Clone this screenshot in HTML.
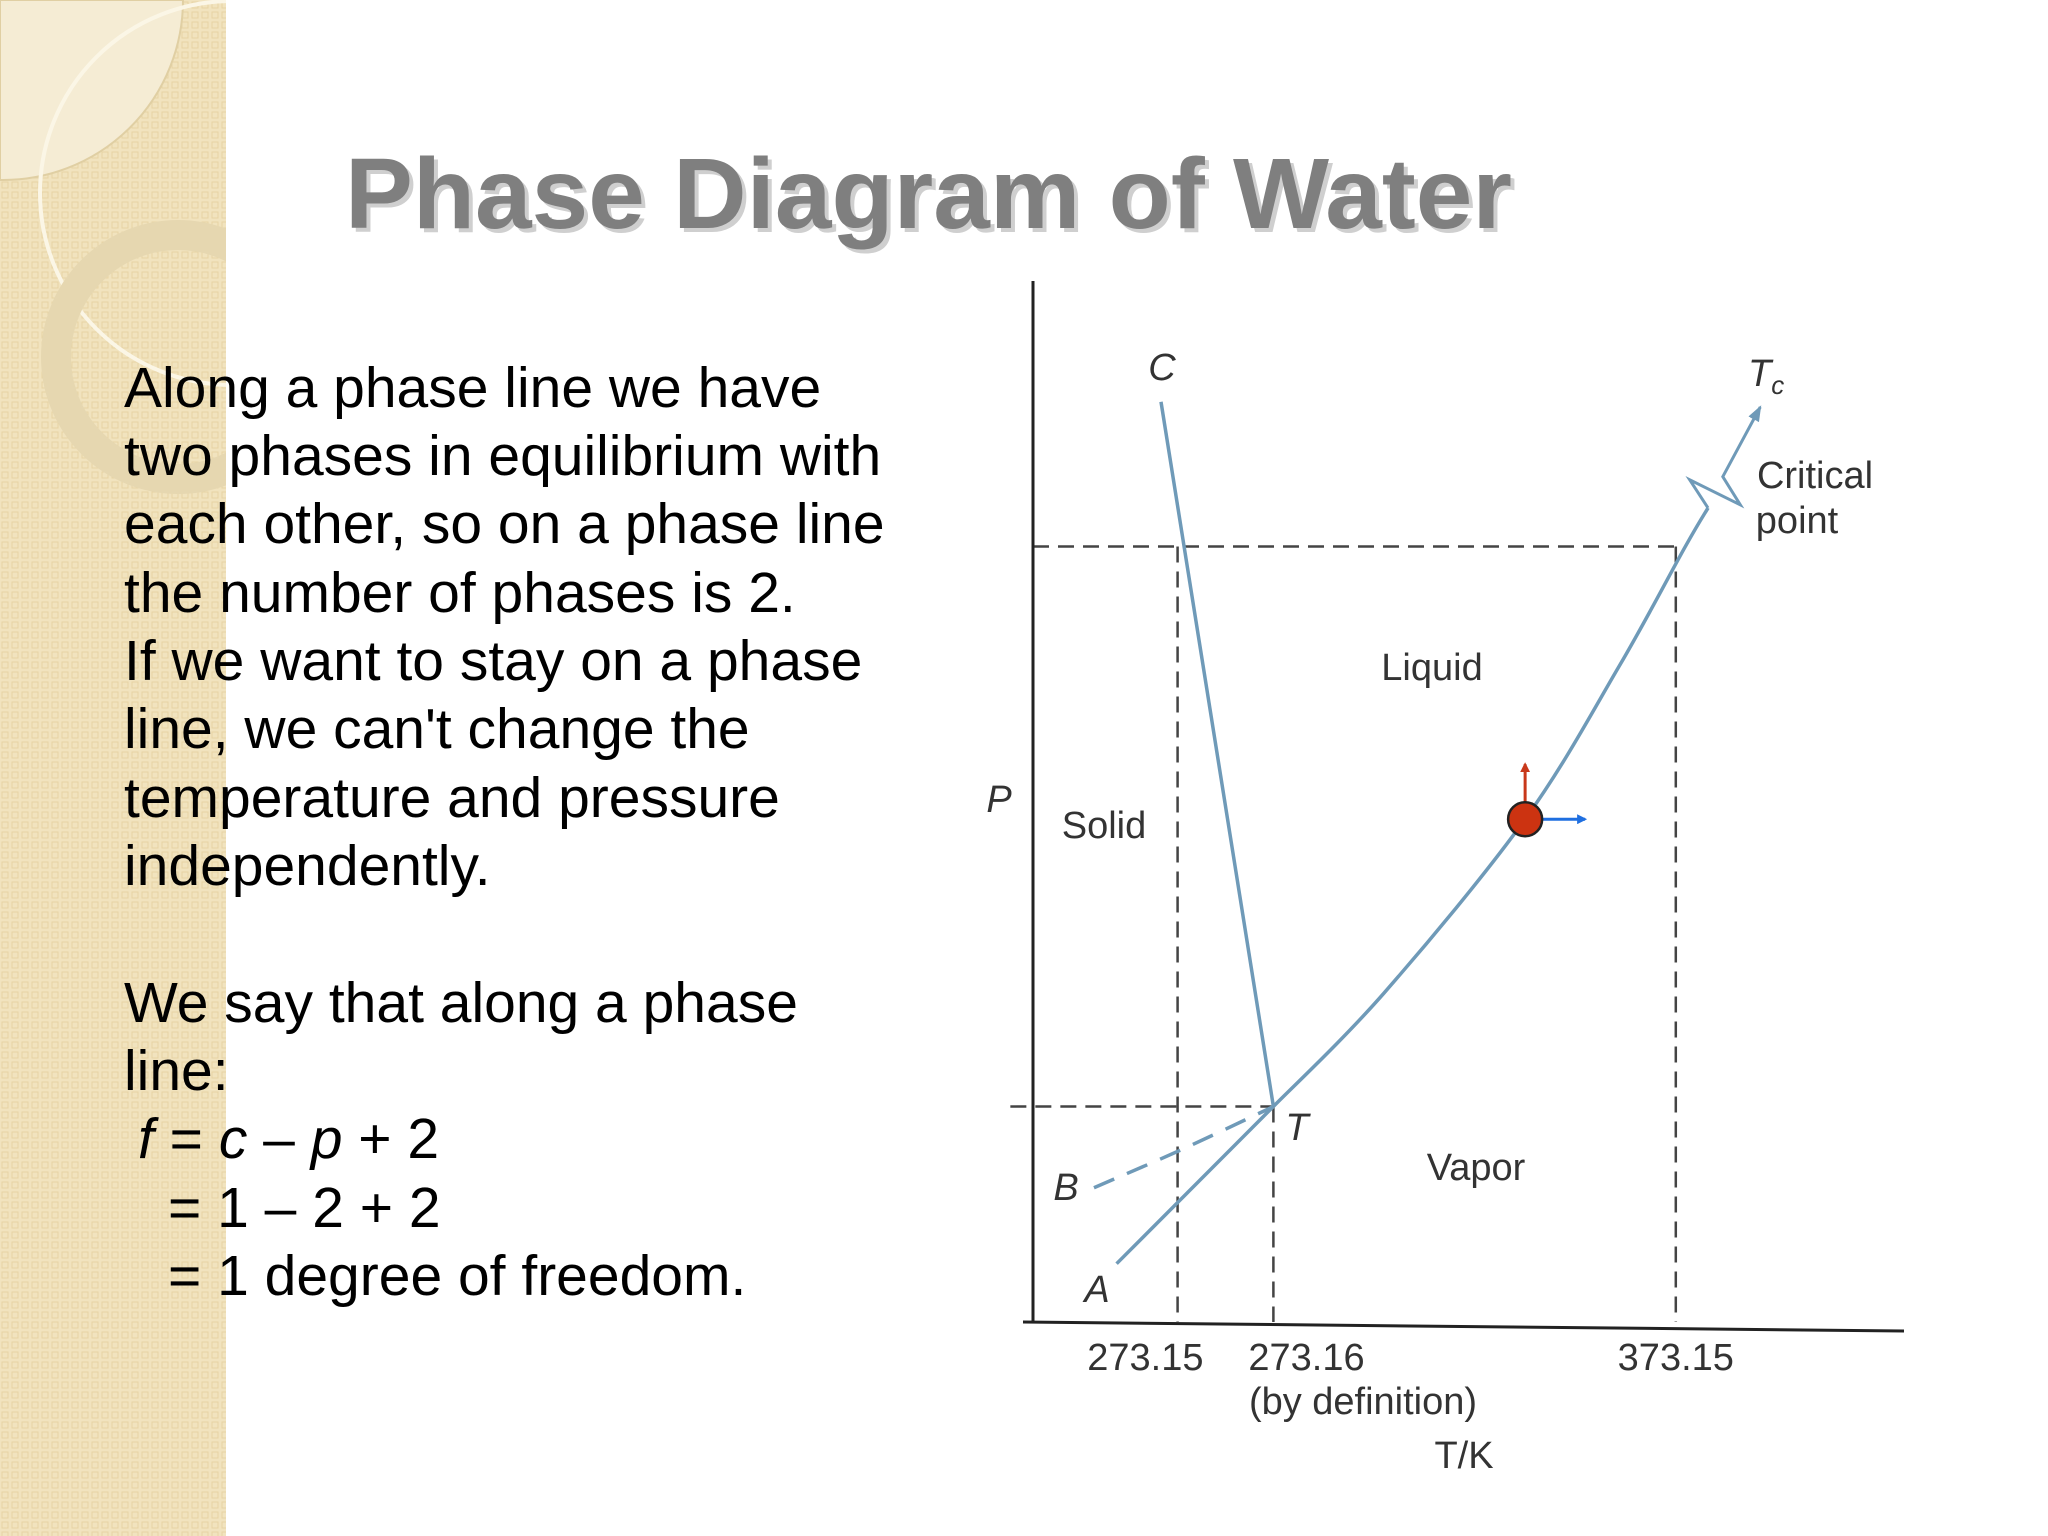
<!DOCTYPE html>
<html><head><meta charset="utf-8"><style>
html,body{margin:0;padding:0;background:#fff;}
body{width:2048px;height:1536px;position:relative;overflow:hidden;font-family:"Liberation Sans",sans-serif;}
</style></head><body>
<svg width="2048" height="1536" viewBox="0 0 2048 1536" xmlns="http://www.w3.org/2000/svg" style="position:absolute;left:0;top:0">
<defs>
<pattern id="dots" width="10" height="10" patternUnits="userSpaceOnUse"><rect x="2" y="2" width="6" height="6" fill="none" stroke="#e6d3a4" stroke-width="1"/></pattern>
<clipPath id="strip"><rect x="0" y="0" width="226" height="1536"/></clipPath>
<marker id="arrBlue" markerWidth="10" markerHeight="10" refX="8" refY="5" orient="auto" markerUnits="userSpaceOnUse"><path d="M0,0 L10,5 L0,10 z" fill="#1f6fe0"/></marker>
<marker id="arrRed" markerWidth="10" markerHeight="10" refX="8" refY="5" orient="auto" markerUnits="userSpaceOnUse"><path d="M0,0 L10,5 L0,10 z" fill="#c8381a"/></marker>
<marker id="arrCurve" markerWidth="16" markerHeight="16" refX="14" refY="8" orient="auto" markerUnits="userSpaceOnUse"><path d="M0,2 L16,8 L0,14 z" fill="#6f9ab8"/></marker>
</defs>
<g clip-path="url(#strip)">
<rect x="0" y="0" width="226" height="1536" fill="#f1e3be"/>
<rect x="0" y="0" width="226" height="1536" fill="url(#dots)"/>
<path d="M0,0 H183 A180,180 0 0 1 0,180 Z" fill="#f5ecd4" stroke="#e0cfa3" stroke-width="2"/>
<circle cx="232" cy="193" r="192" fill="none" stroke="#fbf6e6" stroke-width="4"/>
<circle cx="178" cy="357" r="122" fill="none" stroke="#e6d7b0" stroke-width="30"/>
</g>
<text x="349" y="232" font-size="100" font-weight="bold" fill="#cfcfcf" textLength="1167" lengthAdjust="spacingAndGlyphs">Phase Diagram of Water</text>
<text x="345" y="228" font-size="100" font-weight="bold" fill="#7f7f7f" textLength="1167" lengthAdjust="spacingAndGlyphs">Phase Diagram of Water</text>
<g font-size="57" fill="#000">
<text x="124" y="407">Along a phase line we have</text>
<text x="124" y="475">two phases in equilibrium with</text>
<text x="124" y="543">each other, so on a phase line</text>
<text x="124" y="612">the number of phases is 2.</text>
<text x="124" y="680">If we want to stay on a phase</text>
<text x="124" y="748">line, we can't change the</text>
<text x="124" y="817">temperature and pressure</text>
<text x="124" y="885">independently.</text>
<text x="124" y="1022">We say that along a phase</text>
<text x="124" y="1090">line:</text>
<text x="138" y="1158"><tspan font-style="italic">f</tspan> = <tspan font-style="italic">c</tspan> – <tspan font-style="italic">p</tspan> + 2</text>
<text x="168" y="1227">= 1 – 2 + 2</text>
<text x="168" y="1295">= 1 degree of freedom.</text>
</g>
<g id="chart"></g>
</svg>
<script>
// schematic data in diagram units (u: temperature axis 0-100, v: pressure axis 0-100)
const sublimationU = [9.6, 27.6];
const sublimationV = [5.6, 20.7];
const vaporCurveU = [27.6, 40.3, 56.5, 67.3, 74.9, 77.5];
const vaporCurveV = [20.7, 31.6, 48.3, 63.0, 74.5, 78.2];
const fusionU = [14.7, 27.6];
const fusionV = [88.4, 20.7];
const sublimationMetaU = [7.0, 16.9, 27.6];
const sublimationMetaV = [12.9, 16.5, 20.7];
const breakU = [77.5, 75.4, 81.2, 79.2, 83.5];
const breakV = [78.2, 80.9, 78.5, 81.2, 87.9];
const tickValues = [16.6, 27.6, 73.8];
const tickLabels = ["273.15", "273.16", "373.15"];
const tickLabelU = [12.9, 31.4, 73.8];
const pressureRefV = [74.5, 20.7];
const stateU = [56.5];
const stateV = [48.3];

const X0 = 1033, X1 = 1904, Y0 = 1322, Y1 = 281;
function xs(u){ return X0 + u*(X1-X0)/100; }
function ys(v){ return Y0 - v*(Y0-Y1)/100; }
const NS = "http://www.w3.org/2000/svg";
const g = document.getElementById('chart');
function mk(tag, attrs){ const e=document.createElementNS(NS,tag); for(const k in attrs) e.setAttribute(k, attrs[k]); g.appendChild(e); return e; }
function pts(U,V){ return U.map((u,i)=>xs(u).toFixed(1)+','+ys(V[i]).toFixed(1)).join(' '); }
function smooth(U,V){
  const P=U.map((u,i)=>[xs(u),ys(V[i])]); let d='M'+P[0][0]+','+P[0][1];
  for(let i=0;i<P.length-1;i++){const p0=P[Math.max(i-1,0)],p1=P[i],p2=P[i+1],p3=P[Math.min(i+2,P.length-1)];
    d+=' C'+(p1[0]+(p2[0]-p0[0])/6)+','+(p1[1]+(p2[1]-p0[1])/6)+' '+(p2[0]-(p3[0]-p1[0])/6)+','+(p2[1]-(p3[1]-p1[1])/6)+' '+p2[0]+','+p2[1];}
  return d;
}
let e;
e = mk('line',{x1:xs(0),y1:ys(pressureRefV[0]),x2:xs(tickValues[2]),y2:ys(pressureRefV[0]),stroke:'#444','stroke-width':2.5,'stroke-dasharray':'16 9'});


e = mk('line',{x1:xs(-2.6),y1:ys(pressureRefV[1]),x2:xs(tickValues[1]),y2:ys(pressureRefV[1]),stroke:'#444','stroke-width':2.5,'stroke-dasharray':'16 9'});


const topV = [pressureRefV[0], pressureRefV[1], pressureRefV[0]];
tickValues.forEach((t,i)=>{
  const l = mk('line',{x1:xs(t),y1:ys(topV[i]),x2:xs(t),y2:ys(0),stroke:'#444','stroke-width':2.5,'stroke-dasharray':'16 9'});
  
  
  const tx = mk('text',{x:xs(tickLabelU[i]),y:ys(0)+48,'text-anchor':'middle','font-size':38,fill:'#333','font-family':'"Liberation Sans Narrow","Liberation Sans",sans-serif'});
  tx.textContent = tickLabels[i];
  
  
});
e = mk('line',{x1:X0,y1:Y1,x2:X0,y2:Y0,stroke:'#222','stroke-width':3});


e = mk('line',{x1:X0-10,y1:Y0,x2:X1,y2:Y0+9,stroke:'#222','stroke-width':3});


e = mk('polyline',{points:pts(sublimationU,sublimationV),fill:'none',stroke:'#6f9ab8','stroke-width':3.5});


e = mk('path',{d:smooth(vaporCurveU,vaporCurveV),fill:'none',stroke:'#6f9ab8','stroke-width':3.5});


e = mk('polyline',{points:pts(fusionU,fusionV),fill:'none',stroke:'#6f9ab8','stroke-width':3.5});


e = mk('path',{d:smooth(sublimationMetaU,sublimationMetaV),fill:'none',stroke:'#6f9ab8','stroke-width':3.5,'stroke-dasharray':'22 14'});


e = mk('polyline',{points:pts(breakU,breakV),fill:'none',stroke:'#6f9ab8','stroke-width':3,'marker-end':'url(#arrCurve)'});


e = mk('line',{x1:xs(stateU[0]),y1:ys(stateV[0]),x2:xs(stateU[0]),y2:ys(stateV[0])-55,stroke:'#c8381a','stroke-width':3,'marker-end':'url(#arrRed)'});


e = mk('line',{x1:xs(stateU[0]),y1:ys(stateV[0]),x2:xs(stateU[0])+60,y2:ys(stateV[0]),stroke:'#1f6fe0','stroke-width':3,'marker-end':'url(#arrBlue)'});


e = mk('circle',{cx:xs(stateU[0]),cy:ys(stateV[0]),r:17,fill:'#cc3311',stroke:'#222','stroke-width':2.5});


const labels = [
 ['C',1162,380,38,true,'label-c'],['P',999,812,38,true,'y-axis-title'],['Solid',1104,838,38,false,'solid-label'],
 ['Liquid',1432,680,38,false,'liquid-label'],['Vapor',1476,1180,38,false,'vapor-label'],['T',1297,1140,38,true,'triple-point-label'],
 ['B',1066,1200,38,true,'label-b'],['A',1097,1302,38,true,'label-a'],['(by definition)',1363,1414,38,false,'definition-note'],
 ['T/K',1464,1468,38,false,'x-axis-title'],['Critical',1815,488,38,false,'critical-label'],['point',1797,533,38,false,'critical-label-2']
];
labels.forEach(L=>{
  const t = mk('text',{x:L[1],y:L[2],'text-anchor':'middle','font-size':L[3],fill:'#333','font-style':L[4]?'italic':'normal','font-family':'"Liberation Sans Narrow","Liberation Sans",sans-serif'});
  t.textContent = L[0];
  
  
});
const tc = mk('text',{x:1748,y:386,'font-size':38,fill:'#333','font-style':'italic'});
tc.innerHTML = 'T<tspan font-size="26" dy="8">c</tspan>';


</script>
</body></html>
